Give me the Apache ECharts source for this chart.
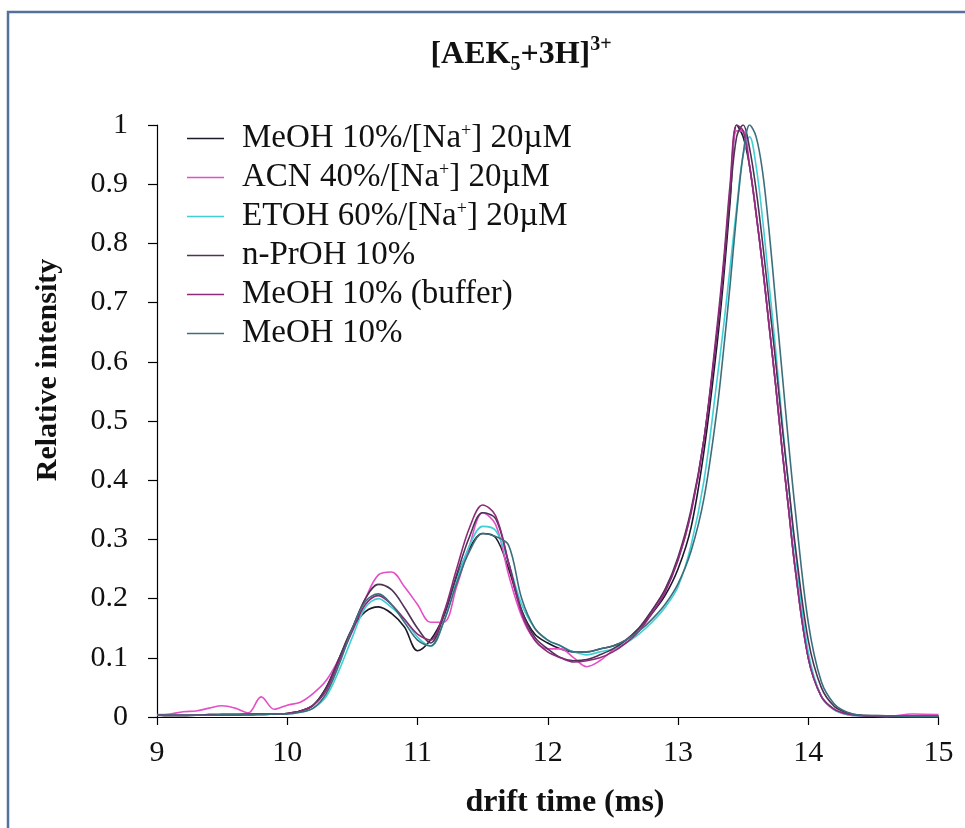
<!DOCTYPE html>
<html>
<head>
<meta charset="utf-8">
<script src="https://cdn.jsdelivr.net/npm/echarts@6/dist/echarts.min.js"></script>
<style>
  html, body { margin: 0; padding: 0; background: #ffffff; }
  #chart { width: 965px; height: 828px; }
</style>
</head>
<body>
<div id="chart"></div>
<script>
// ---- data ----
const driftTime = [
  9.0, 9.1, 9.2, 9.3, 9.4, 9.5, 9.6, 9.7, 9.8, 9.9,
  10.0, 10.1, 10.2, 10.3, 10.4, 10.5, 10.6, 10.7, 10.8, 10.9,
  11.0, 11.1, 11.2, 11.3, 11.4, 11.5, 11.6, 11.7, 11.8, 11.9,
  12.0, 12.1, 12.2, 12.3, 12.4, 12.5, 12.6, 12.7, 12.8, 12.9,
  13.0, 13.1, 13.2, 13.3,
  13.35, 13.4, 13.45, 13.5, 13.55, 13.6, 13.65, 13.7, 13.75, 13.8, 13.85, 13.9,
  14.0, 14.1, 14.2, 14.3, 14.4,
  14.6, 14.8, 15.0
];

const meohNa = [
  0.003, 0.002, 0.002, 0.003, 0.004, 0.004, 0.004, 0.004, 0.005, 0.005,
  0.006, 0.01, 0.02, 0.05, 0.1, 0.15, 0.178, 0.186, 0.175, 0.152,
  0.112, 0.13, 0.17, 0.235, 0.285, 0.31, 0.303, 0.25, 0.18, 0.14,
  0.125, 0.115, 0.11, 0.11, 0.115, 0.12, 0.13, 0.15, 0.175, 0.205,
  0.25, 0.32, 0.45, 0.63,
  0.74, 0.87, 1.0, 0.98, 0.93, 0.85, 0.76, 0.66, 0.56, 0.45, 0.35, 0.25,
  0.1, 0.035, 0.013, 0.005, 0.003,
  0.002, 0.001, 0.001
];

const acnNa = [
  0.004, 0.005, 0.009, 0.01, 0.015, 0.019, 0.015, 0.007, 0.034, 0.013,
  0.02, 0.025, 0.04, 0.062, 0.1, 0.15, 0.2, 0.24, 0.245, 0.22,
  0.19, 0.16, 0.16, 0.22, 0.29, 0.345, 0.325, 0.24, 0.17, 0.13,
  0.115, 0.115, 0.1, 0.085, 0.095, 0.113, 0.13, 0.15, 0.18, 0.215,
  0.265, 0.345, 0.47, 0.65,
  0.76, 0.89, 0.99, 0.99, 0.93, 0.85, 0.76, 0.66, 0.56, 0.45, 0.35, 0.25,
  0.1, 0.035, 0.012, 0.004, 0.002,
  0.001, 0.005, 0.004
];

const etohNa = [
  0.003, 0.003, 0.003, 0.003, 0.003, 0.004, 0.004, 0.004, 0.004, 0.005,
  0.005, 0.008, 0.015, 0.035, 0.08, 0.135, 0.185, 0.2, 0.185, 0.165,
  0.135, 0.12, 0.16, 0.23, 0.29, 0.322, 0.315, 0.26, 0.19, 0.15,
  0.13, 0.12, 0.11, 0.105, 0.11, 0.115, 0.125, 0.14, 0.16, 0.185,
  0.22, 0.29, 0.4, 0.57,
  0.66, 0.76, 0.86, 0.95, 0.98, 0.93, 0.84, 0.73, 0.62, 0.5, 0.39, 0.28,
  0.11, 0.035, 0.012, 0.004, 0.002,
  0.001, 0.001, 0.001
];

const nPrOH = [
  0.003, 0.003, 0.003, 0.003, 0.004, 0.004, 0.004, 0.005, 0.005, 0.005,
  0.006, 0.01, 0.02, 0.05, 0.1, 0.15, 0.2, 0.224, 0.215, 0.185,
  0.15, 0.125, 0.17, 0.24, 0.305, 0.345, 0.335, 0.26, 0.18, 0.135,
  0.115, 0.1, 0.095, 0.097, 0.105, 0.115, 0.13, 0.15, 0.18, 0.215,
  0.27, 0.35, 0.47, 0.65,
  0.76, 0.88, 0.98, 1.0, 0.96, 0.89, 0.8, 0.7, 0.6, 0.49, 0.39, 0.29,
  0.13, 0.05, 0.018, 0.007, 0.003,
  0.002, 0.001, 0.001
];

const meohBuffer = [
  0.003, 0.003, 0.003, 0.003, 0.003, 0.004, 0.004, 0.004, 0.005, 0.005,
  0.006, 0.01, 0.02, 0.045, 0.095, 0.145, 0.19, 0.205, 0.19, 0.165,
  0.14, 0.13, 0.175, 0.25, 0.32, 0.358, 0.34, 0.26, 0.175, 0.13,
  0.11, 0.1, 0.093, 0.095, 0.1, 0.11, 0.125, 0.145, 0.175, 0.21,
  0.265, 0.345, 0.47, 0.66,
  0.77, 0.9, 1.0, 0.99, 0.93, 0.85, 0.76, 0.66, 0.56, 0.45, 0.35, 0.25,
  0.1, 0.035, 0.013, 0.005, 0.002,
  0.001, 0.001, 0.001
];

const meoh10 = [
  0.003, 0.003, 0.003, 0.003, 0.003, 0.004, 0.004, 0.004, 0.004, 0.005,
  0.005, 0.008, 0.015, 0.04, 0.09, 0.15, 0.195, 0.208, 0.19, 0.16,
  0.13, 0.12, 0.16, 0.225, 0.28, 0.31, 0.305, 0.29, 0.2, 0.15,
  0.13, 0.12, 0.11, 0.11, 0.115, 0.12, 0.13, 0.145, 0.165, 0.19,
  0.225, 0.28, 0.37, 0.52,
  0.62, 0.73, 0.85, 0.95, 1.0, 0.98, 0.92, 0.82, 0.7, 0.58, 0.46, 0.35,
  0.16, 0.06, 0.022, 0.008, 0.003,
  0.002, 0.001, 0.001
];

const seriesNames = [
  'MeOH 10%/[Na+] 20µM',
  'ACN 40%/[Na+] 20µM',
  'ETOH 60%/[Na+] 20µM',
  'n-PrOH 10%',
  'MeOH 10% (buffer)',
  'MeOH 10%'
];
const seriesValues = [meohNa, acnNa, etohNa, nPrOH, meohBuffer, meoh10];
const seriesColors = ['#1c1a2a', '#e44fc6', '#3fd0d6', '#4e3356', '#8e2a7a', '#3d6e7c'];

const xTitle = 'drift time (ms)';
const yTitle = 'Relative intensity';

// ---- chart ----
const FONT = "'Liberation Serif', 'Times New Roman', serif";
const chart = echarts.init(document.getElementById('chart'));

const series = seriesNames.map((name, k) => ({
  name: name,
  type: 'line',
  data: driftTime.map((t, i) => [t, seriesValues[k][i]]),
  symbol: 'none',
  smooth: 0.35,
  lineStyle: { width: 1.6, color: seriesColors[k] },
  itemStyle: { color: seriesColors[k] },
  animation: false
}));

function legendRich(name) {
  const idx = name.indexOf('+]');
  if (idx >= 0) {
    return '{g| }{a|' + name.slice(0, idx) + '}{s|+}{a|' + name.slice(idx + 1) + '}';
  }
  return '{g| }{a|' + name + '}';
}

chart.setOption({
  backgroundColor: '#ffffff',
  animation: false,
  grid: { left: 157, right: 26.5, top: 125, bottom: 111, containLabel: false },
  xAxis: {
    type: 'value', min: 9, max: 15, interval: 1,
    axisLine: { show: true, onZero: false, lineStyle: { color: '#000', width: 1.2 } },
    axisTick: { show: true, inside: false, length: 8, lineStyle: { color: '#000', width: 1.2 } },
    axisLabel: { fontFamily: FONT, fontSize: 30, color: '#111', margin: 21 },
    splitLine: { show: false }
  },
  yAxis: {
    type: 'value', min: 0, max: 1, interval: 0.1,
    axisLine: { show: true, lineStyle: { color: '#000', width: 1.2 } },
    axisTick: { show: true, inside: false, length: 9, lineStyle: { color: '#000', width: 1.2 } },
    axisLabel: { fontFamily: FONT, fontSize: 30, color: '#111', margin: 29 },
    splitLine: { show: false }
  },
  legend: {
    show: true,
    orient: 'vertical',
    left: 187, top: 122,
    padding: 0,
    icon: 'rect',
    itemWidth: 37, itemHeight: 1.6,
    itemGap: 6,
    data: seriesNames,
    formatter: legendRich,
    textStyle: {
      fontFamily: FONT, fontSize: 33, color: '#111', lineHeight: 33,
      rich: {
        g: { width: 13, fontSize: 10, lineHeight: 33 },
        a: { fontFamily: FONT, fontSize: 33, color: '#111', lineHeight: 33 },
        s: { fontFamily: FONT, fontSize: 18, color: '#111', lineHeight: 18, verticalAlign: 'top' }
      }
    }
  },
  graphic: [
    {
      type: 'rect', silent: true, z: -1,
      shape: { x: 8, y: 12, width: 975, height: 840 },
      style: { fill: 'none', stroke: '#52729a', lineWidth: 2.5 }
    },
    {
      type: 'text', silent: true,
      x: 521, y: 55,
      style: {
        text: '{a|[AEK}{b|5}{a|+3H]}{c|3+}',
        align: 'center', verticalAlign: 'middle',
        rich: {
          a: { fontFamily: FONT, fontWeight: 'bold', fontSize: 32, lineHeight: 40, fill: '#111', verticalAlign: 'middle' },
          b: { fontFamily: FONT, fontWeight: 'bold', fontSize: 20, lineHeight: 20, fill: '#111', verticalAlign: 'bottom' },
          c: { fontFamily: FONT, fontWeight: 'bold', fontSize: 20, lineHeight: 20, fill: '#111', verticalAlign: 'top' }
        }
      }
    },
    {
      type: 'text', silent: true,
      x: 565, y: 803,
      style: {
        text: xTitle,
        font: 'bold 32px ' + FONT,
        fill: '#111',
        align: 'center', verticalAlign: 'middle'
      }
    },
    {
      type: 'text', silent: true,
      x: 48, y: 370, rotation: Math.PI / 2,
      style: {
        text: yTitle,
        font: 'bold 30px ' + FONT,
        fill: '#111',
        align: 'center', verticalAlign: 'middle'
      }
    }
  ],
  series: series
});
</script>
</body>
</html>
